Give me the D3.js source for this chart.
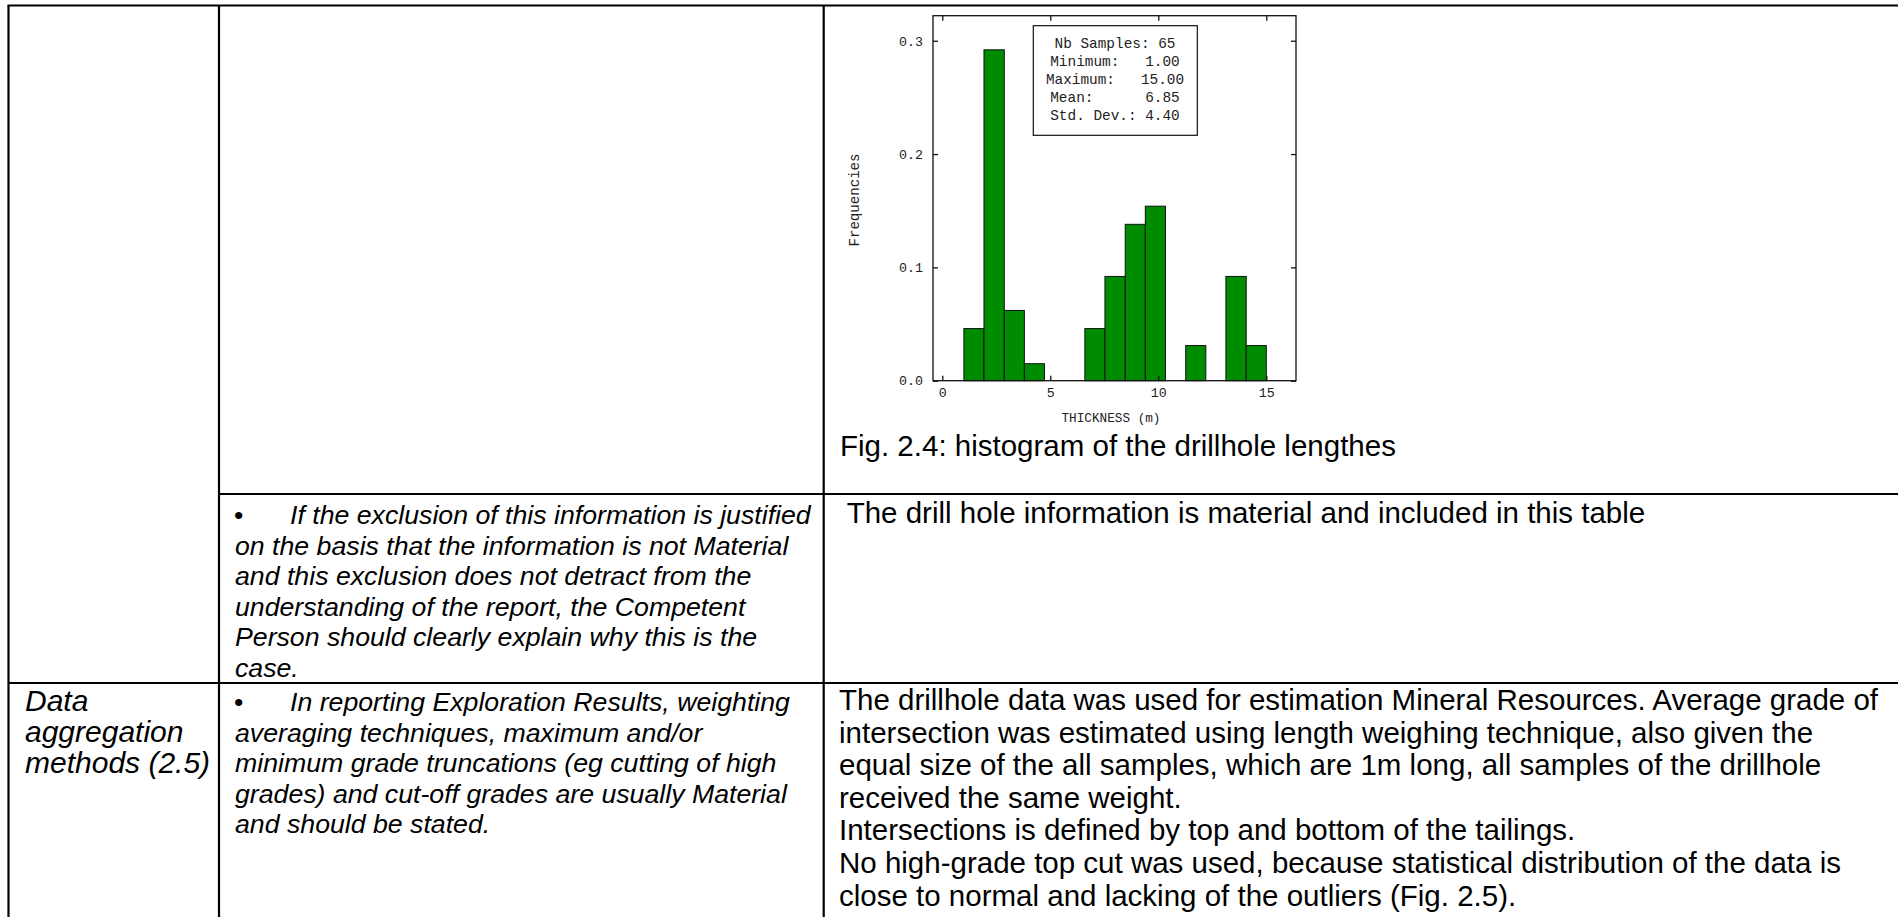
<!DOCTYPE html>
<html>
<head>
<meta charset="utf-8">
<script src="https://cdn.jsdelivr.net/npm/d3@7"></script>
<style>
  html, body { margin: 0; padding: 0; background: #fff; }
  svg { display: block; }
  .mono { font-family: "Liberation Mono", "Courier New", monospace; fill: #222; }
  .sans { font-family: "Liberation Sans", Arial, sans-serif; fill: #000; }
</style>
</head>
<body>
<svg id="page" width="1898" height="917"></svg>
<script>
// Histogram of drillhole thickness: bin edges (m) and relative frequencies
const binEdges = [1.00, 1.93, 2.87, 3.80, 4.73, 5.67, 6.60, 7.53, 8.47, 9.40, 10.33, 11.27, 12.20, 13.13, 14.07, 15.00];
const frequencies = [0.046, 0.292, 0.062, 0.015, 0, 0, 0.046, 0.092, 0.138, 0.154, 0, 0.031, 0, 0.092, 0.031];
const xTicks = [0, 5, 10, 15];
const yTicks = [0.0, 0.1, 0.2, 0.3];
const statsLines = ["Nb Samples: 65", "Minimum:   1.00", "Maximum:   15.00", "Mean:      6.85", "Std. Dev.: 4.40"];
const xTitle = "THICKNESS (m)";
const yTitle = "Frequencies";
const caption = "Fig. 2.4: histogram of the drillhole lengthes";

// Table text, one entry per rendered line
const explanationRow2 = [
  "If the exclusion of this information is justified",
  "on the basis that the information is not Material",
  "and this exclusion does not detract from the",
  "understanding of the report, the Competent",
  "Person should clearly explain why this is the",
  "case."
];
const commentaryRow2 = [" The drill hole information is material and included in this table"];
const criteriaRow3 = ["Data", "aggregation", "methods (2.5)"];
const explanationRow3 = [
  "In reporting Exploration Results, weighting",
  "averaging techniques, maximum and/or",
  "minimum grade truncations (eg cutting of high",
  "grades) and cut-off grades are usually Material",
  "and should be stated."
];
const commentaryRow3 = [
  "The drillhole data was used for estimation Mineral Resources. Average grade of",
  "intersection was estimated using length weighing technique, also given the",
  "equal size of the all samples, which are 1m long, all samples of the drillhole",
  "received the same weight.",
  "Intersections is defined by top and bottom of the tailings.",
  "No high-grade top cut was used, because statistical distribution of the data is",
  "close to normal and lacking of the outliers (Fig. 2.5)."
];

const svg = d3.select("#page");
svg.append("rect").attr("width", 1898).attr("height", 917).attr("fill", "#fff");

// ---- table grid ----
const grid = svg.append("g").attr("stroke", "#000").attr("stroke-width", 2.2);
const colX = [8.5, 219, 823.7];
const rowY = [5.5, 494, 683];
grid.append("line").attr("x1", colX[0] - 1).attr("x2", 1898).attr("y1", rowY[0]).attr("y2", rowY[0]);
colX.forEach(x => grid.append("line").attr("x1", x).attr("x2", x).attr("y1", rowY[0]).attr("y2", 917));
grid.append("line").attr("x1", colX[1]).attr("x2", 1898).attr("y1", rowY[1]).attr("y2", rowY[1]);
grid.append("line").attr("x1", colX[0]).attr("x2", 1898).attr("y1", rowY[2]).attr("y2", rowY[2]);

// ---- histogram ----
const frame = { left: 933, right: 1296, top: 15.7, bottom: 380.7 };
const x = d3.scaleLinear().domain([-0.43, 16.375]).range([frame.left, frame.right]);
const y = d3.scaleLinear().domain([0, 0.3221]).range([frame.bottom, frame.top]);

const bins = frequencies.map((f, i) => ({ x0: binEdges[i], x1: binEdges[i + 1], f }));
svg.append("g").selectAll("rect")
  .data(bins.filter(d => d.f > 0))
  .join("rect")
  .attr("x", d => x(d.x0))
  .attr("width", d => x(d.x1) - x(d.x0))
  .attr("y", d => y(d.f))
  .attr("height", d => y(0) - y(d.f))
  .attr("fill", "#008c00")
  .attr("stroke", "#111")
  .attr("stroke-width", 1);

svg.append("rect")
  .attr("x", frame.left).attr("y", frame.top)
  .attr("width", frame.right - frame.left).attr("height", frame.bottom - frame.top)
  .attr("fill", "none").attr("stroke", "#111").attr("stroke-width", 1.3);

const tickLen = 5;
function styleAxis(g) {
  g.select(".domain").remove();
  g.selectAll(".tick line").attr("stroke", "#111").attr("stroke-width", 1.3);
  g.selectAll(".tick text").attr("class", "mono").attr("font-size", 13.3).attr("fill", "#333");
}
svg.append("g").attr("transform", `translate(0,${frame.bottom})`)
  .call(d3.axisBottom(x).tickValues(xTicks).tickSizeInner(-tickLen).tickSizeOuter(0).tickPadding(7).tickFormat(d3.format("d")))
  .call(styleAxis);
svg.append("g").attr("transform", `translate(0,${frame.top})`)
  .call(d3.axisTop(x).tickValues(xTicks).tickSizeInner(-tickLen).tickSizeOuter(0).tickFormat(""))
  .call(styleAxis);
svg.append("g").attr("transform", `translate(${frame.left},0)`)
  .call(d3.axisLeft(y).tickValues(yTicks).tickSizeInner(-tickLen).tickSizeOuter(0).tickPadding(10).tickFormat(d3.format(".1f")))
  .call(styleAxis);
svg.append("g").attr("transform", `translate(${frame.right},0)`)
  .call(d3.axisRight(y).tickValues(yTicks).tickSizeInner(-tickLen).tickSizeOuter(0).tickFormat(""))
  .call(styleAxis);

// axis titles
svg.append("text").attr("class", "mono")
  .attr("x", 1111).attr("y", 422).attr("text-anchor", "middle")
  .attr("font-size", 12.7).text(xTitle);
svg.append("text").attr("class", "mono")
  .attr("transform", "translate(859,200) rotate(-90)").attr("text-anchor", "middle")
  .attr("font-size", 14.1).text(yTitle);

// statistics box
svg.append("rect").attr("x", 1033.3).attr("y", 25.7).attr("width", 164).attr("height", 109.6)
  .attr("fill", "#fff").attr("stroke", "#111").attr("stroke-width", 1.2);
svg.append("g").selectAll("text").data(statsLines).join("text")
  .attr("class", "mono").attr("xml:space", "preserve").style("white-space", "pre")
  .attr("x", 1115).attr("y", (d, i) => 47.5 + i * 18.1)
  .attr("text-anchor", "middle").attr("font-size", 14.4).text(d => d);

// caption under the chart
svg.append("text").attr("class", "sans").attr("x", 840).attr("y", 456)
  .attr("font-size", 29.5).text(caption);

// ---- table text ----
function block(lines, x0, y0, fs, lh, italic) {
  svg.append("g").selectAll("text").data(lines).join("text")
    .attr("class", "sans").attr("xml:space", "preserve").style("white-space", "pre")
    .attr("x", x0).attr("y", (d, i) => y0 + i * lh)
    .attr("font-size", fs).attr("font-style", italic ? "italic" : "normal")
    .text(d => d);
}
function bullet(x0, y0, fs) {
  svg.append("text").attr("class", "sans").attr("x", x0).attr("y", y0)
    .attr("font-size", fs).text("\u2022");
}

// row 2
bullet(234, 524, 26.7);
block(explanationRow2.slice(0, 1), 290, 524, 26.7, 30.5, true);
block(explanationRow2.slice(1), 235, 554.5, 26.7, 30.5, true);
block(commentaryRow2, 839, 523, 29.5, 32.6, false);

// row 3
block(criteriaRow3, 25, 711, 30, 31, true);
bullet(234, 711, 26.7);
block(explanationRow3.slice(0, 1), 290, 711, 26.7, 30.5, true);
block(explanationRow3.slice(1), 235, 741.5, 26.7, 30.5, true);
block(commentaryRow3, 839, 710, 29.5, 32.6, false);
</script>
</body>
</html>
